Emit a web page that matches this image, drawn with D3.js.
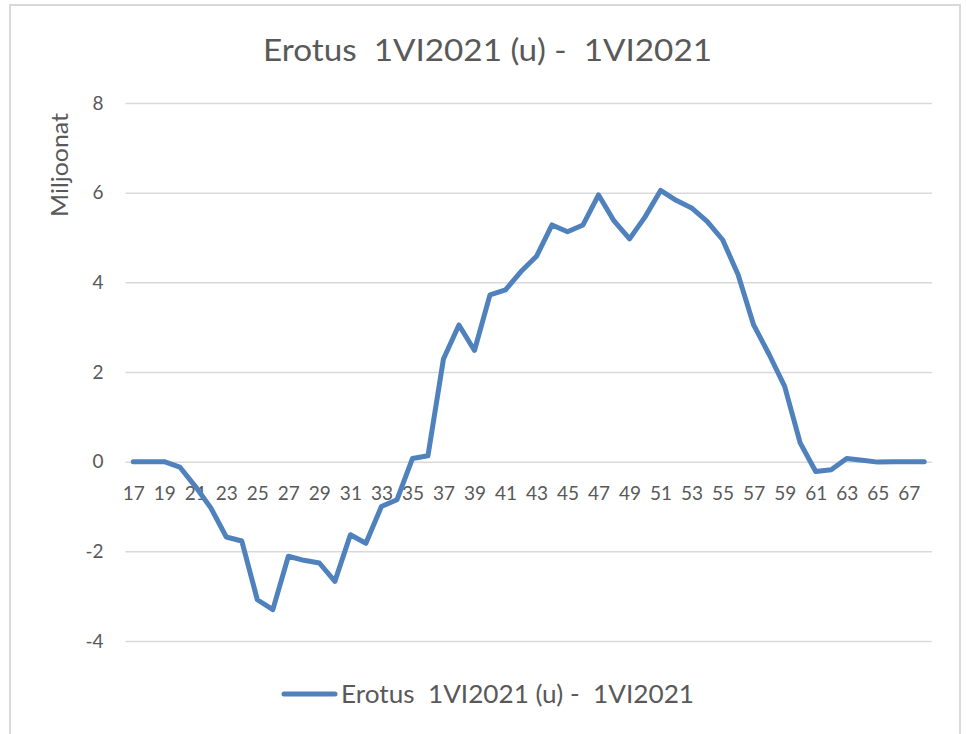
<!DOCTYPE html>
<html>
<head>
<meta charset="utf-8">
<script src="https://cdn.jsdelivr.net/npm/d3@7"></script>
<style>
  body { margin: 0; background: #fff; }
  text { font-family: Lato, "Open Sans", sans-serif; fill: #595959; }
</style>
</head>
<body>
<svg id="svg" width="966" height="734"></svg>
<script>
const width = 966;
const height = 734;
const lineColor = '#4f81bd';
const gridColor = '#d9d9d9';

const title = 'Erotus  1VI2021 (u) -  1VI2021';
const yTitle = 'Miljoonat';

const categories = [
	17, 18, 19, 20, 21, 22, 23, 24, 25, 26,
	27, 28, 29, 30, 31, 32, 33, 34, 35, 36,
	37, 38, 39, 40, 41, 42, 43, 44, 45, 46,
	47, 48, 49, 50, 51, 52, 53, 54, 55, 56,
	57, 58, 59, 60, 61, 62, 63, 64, 65, 66,
	67, 68
];

const values = [
	0, 0, 0, -0.12, -0.55, -1.03, -1.68, -1.77, -3.08, -3.30,
	-2.11, -2.20, -2.26, -2.67, -1.63, -1.82, -1.00, -0.85, 0.07, 0.13,
	2.29, 3.05, 2.48, 3.72, 3.83, 4.24, 4.58, 5.28, 5.13, 5.28,
	5.95, 5.37, 4.97, 5.46, 6.05, 5.83, 5.66, 5.36, 4.95, 4.17,
	3.05, 2.39, 1.68, 0.42, -0.22, -0.18, 0.07, 0.03, -0.01, 0,
	0, 0
];

const xTickLabels = [
	17, 19, 21, 23, 25, 27, 29, 31, 33, 35, 37, 39, 41,
	43, 45, 47, 49, 51, 53, 55, 57, 59, 61, 63, 65, 67
];

const yTicks = [-4, -2, 0, 2, 4, 6, 8];

const plot = {
	left: 125.5,
	right: 932,
	top: 103,
	bottom: 641
};

const svg = d3.select('#svg');

// chart area border (bottom edge runs off the picture)
svg.append('rect')
	.attr('x', 10)
	.attr('y', 5)
	.attr('width', 950)
	.attr('height', 760)
	.attr('fill', '#fff')
	.attr('stroke', gridColor)
	.attr('stroke-width', 2);

const xScale = d3.scalePoint()
	.domain(categories)
	.range([plot.left, plot.right])
	.padding(0.5);

const yScale = d3.scaleLinear()
	.domain([-4, 8])
	.range([plot.bottom, plot.top]);

// plain hyphen for negatives, like the original
const yAxis = d3.axisLeft(yScale)
	.tickValues(yTicks)
	.tickFormat(d => String(d))
	.tickSizeInner(-(plot.right - plot.left))
	.tickSizeOuter(0)
	.tickPadding(22);

const yAxisGroup = svg.append('g')
	.attr('class', 'y-axis-group')
	.attr('transform', 'translate(' + plot.left + ',0)')
	.call(yAxis);

yAxisGroup.select('.domain').remove();
yAxisGroup.selectAll('line')
	.attr('stroke', gridColor)
	.attr('stroke-width', 1.5);
yAxisGroup.selectAll('text')
	.style('font-size', '19px')
	.style('fill', '#595959');

const xAxis = d3.axisBottom(xScale)
	.tickValues(xTickLabels)
	.tickSize(0)
	.tickPadding(25);

const xAxisGroup = svg.append('g')
	.attr('class', 'x-axis-group')
	.attr('transform', 'translate(0,' + yScale(0) + ')')
	.call(xAxis);

xAxisGroup.select('.domain').remove();
xAxisGroup.selectAll('text')
	.style('font-size', '19px')
	.style('fill', '#595959');

const line = d3.line()
	.x((d, i) => xScale(categories[i]))
	.y(d => yScale(d));

svg.append('path')
	.datum(values)
	.attr('d', line)
	.attr('fill', 'none')
	.attr('stroke', lineColor)
	.attr('stroke-width', 5)
	.attr('stroke-linejoin', 'round')
	.attr('stroke-linecap', 'round');

svg.append('text')
	.attr('x', 487.5)
	.attr('y', 61)
	.attr('text-anchor', 'middle')
	.attr('textLength', 449)
	.attr('lengthAdjust', 'spacingAndGlyphs')
	.style('font-size', '31px')
	.style('white-space', 'pre')
	.text(title);

svg.append('text')
	.attr('transform', 'translate(68,165) rotate(-90)')
	.attr('text-anchor', 'middle')
	.attr('textLength', 104)
	.attr('lengthAdjust', 'spacingAndGlyphs')
	.style('font-size', '23px')
	.text(yTitle);

// legend
svg.append('line')
	.attr('x1', 284)
	.attr('x2', 335)
	.attr('y1', 694)
	.attr('y2', 694)
	.attr('stroke', lineColor)
	.attr('stroke-width', 5)
	.attr('stroke-linecap', 'round');

svg.append('text')
	.attr('x', 341)
	.attr('y', 703)
	.attr('textLength', 353)
	.attr('lengthAdjust', 'spacingAndGlyphs')
	.style('font-size', '25px')
	.style('white-space', 'pre')
	.text(title);
</script>
</body>
</html>
